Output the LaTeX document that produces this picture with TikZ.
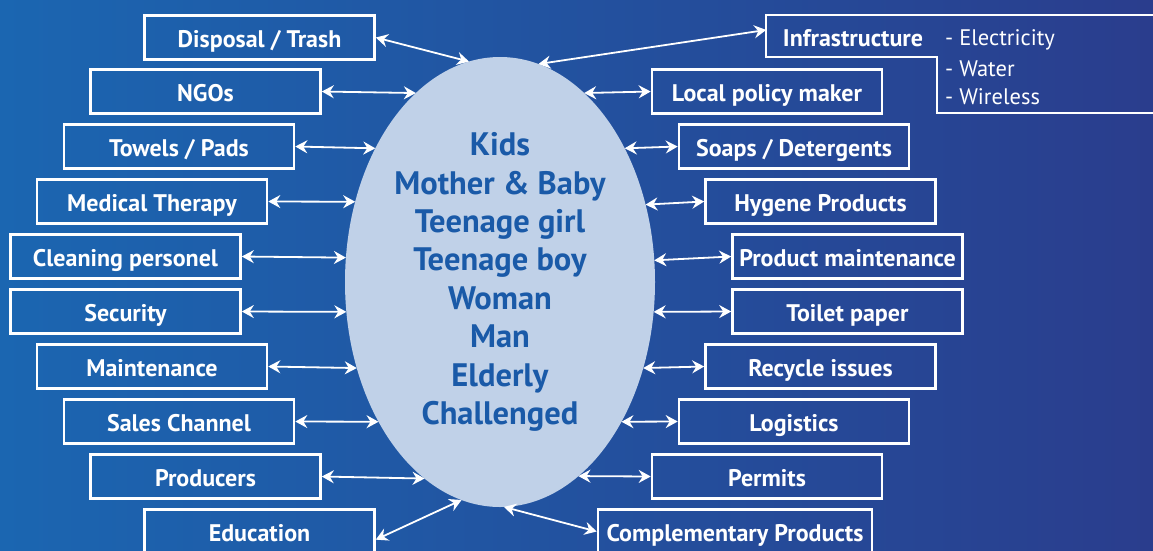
\documentclass[tikz,border=0pt]{standalone}
\usepackage{fontspec}
\setmainfont{PT Sans}
\usetikzlibrary{arrows.meta,shapes.geometric}

\definecolor{bgleft}{RGB}{27,102,177}
\definecolor{bgmid}{RGB}{30,86,163}
\definecolor{bgright}{RGB}{42,61,141}
\definecolor{ovalfill}{RGB}{192,209,232}
\definecolor{ovaltext}{RGB}{26,90,168}

\begin{document}
\begin{tikzpicture}[
  x=1pt, y=-1pt,
  box/.style={draw=white,line width=2.6pt,rectangle,minimum width=230pt,minimum height=44pt,inner sep=0pt,
              text height=20pt,text depth=0pt,text=white,font=\fontsize{24}{28}\selectfont\bfseries},
  item/.style={anchor=west,inner sep=0pt,text=white,font=\fontsize{22.5}{26}\selectfont},
  link/.style={white,line width=1.8pt,{Stealth[length=12pt,width=13pt,inset=4pt]}-{Stealth[length=12pt,width=13pt,inset=4pt]}}
]
  \useasboundingbox (0,0) rectangle (1153,550);
  \fill[left color=bgleft,middle color=bgmid,right color=bgright] (0,0) rectangle (1153,550);

  % user groups
  \node[ellipse,fill=ovalfill,minimum width=310pt,minimum height=450pt,inner sep=0pt,outer sep=0pt,
        text=ovaltext,align=center,font=\fontsize{32.5}{38.4}\selectfont\bfseries] (oval) at (500,282)
    {Kids\\Mother \& Baby\\Teenage girl\\Teenage boy\\Woman\\Man\\Elderly\\Challenged};

  % left boxes
  \node[box] (disp) at (259.5,37.5) {Disposal / Trash};
  \node[box] (ngo) at (205.5,91.5) {NGOs};
  \node[box] (towel) at (179,146.5) {Towels / Pads};
  \node[box] (medic) at (152,201.5) {Medical Therapy};
  \node[box] (clean) at (125.5,256.5) {Cleaning personel};
  \node[box] (secur) at (125.5,311.5) {Security};
  \node[box] (maint) at (152,366.5) {Maintenance};
  \node[box] (sales) at (179,421.5) {Sales Channel};
  \node[box] (prod) at (205.5,476.5) {Producers};
  \node[box] (edu) at (259.5,531.5) {Education};

  % right boxes
  \node[box,draw=none,minimum width=171pt,minimum height=42pt] (infra) at (853,36) {Infrastructure};
  \draw[white,line width=2.6pt] (766,15) -- (1160,15) -- (1160,113) -- (937,113) -- (937,57) -- (766,57) -- cycle;
  \node[item] (elec) at (945,40) {- Electricity};
  \node[item] (water) at (945,69) {- Water};
  \node[item] (wless) at (945,97) {- Wireless};
  \node[box] (local) at (767,91.5) {Local policy maker};
  \node[box] (soap) at (794,146.5) {Soaps / Detergents};
  \node[box] (hyg) at (820.5,201.5) {Hygene Products};
  \node[box] (pmaint) at (847.5,256.5) {Product maintenance};
  \node[box] (toilet) at (847.5,311.5) {Toilet paper};
  \node[box] (recyc) at (820.5,366.5) {Recycle issues};
  \node[box] (logi) at (794,421.5) {Logistics};
  \node[box] (permit) at (767,476.5) {Permits};
  \node[box,minimum width=274pt] (compl) at (735,531.5) {Complementary Products};

  % left links
  \draw[link] (disp.east) -- (oval.98);
  \draw[link] (ngo.east) -- (oval.114);
  \draw[link] (towel.east) -- (oval.133.2);
  \draw[link] (medic.east) -- (oval.151.4);
  \draw[link] (clean.east) -- (oval.171.5);
  \draw[link] (secur.east) -- (oval.191.8);
  \draw[link] (maint.east) -- (oval.211.3);
  \draw[link] (sales.east) -- (oval.229.4);
  \draw[link] (prod.east) -- (oval.249.2);
  \draw[link] (edu.-4) -- (oval.260.3);

  % right links
  \draw[link] (oval.80.6) -- (infra.176);
  \draw[link] (oval.66) -- (local.west);
  \draw[link] (oval.47.1) -- (soap.west);
  \draw[link] (oval.28.6) -- (hyg.west);
  \draw[link] (oval.8.85) -- (pmaint.west);
  \draw[link] (oval.-11.4) -- (toilet.west);
  \draw[link] (oval.-31.1) -- (recyc.west);
  \draw[link] (oval.-49.4) -- (logi.west);
  \draw[link] (oval.-68.8) -- (permit.west);
  \draw[link] (oval.-89) -- (compl.west);

\end{tikzpicture}
\end{document}
